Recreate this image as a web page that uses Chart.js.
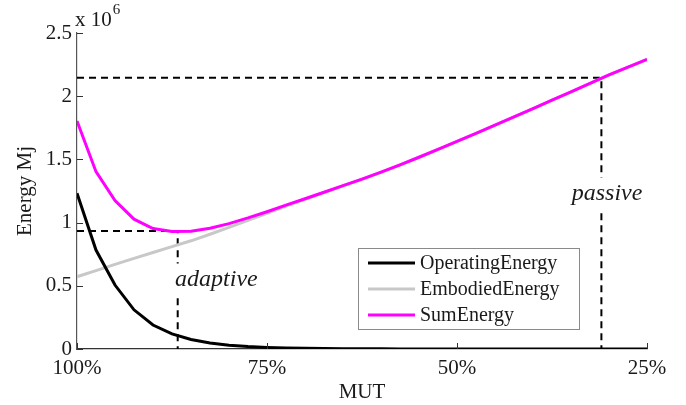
<!DOCTYPE html>
<html>
<head>
<meta charset="utf-8">
<script src="https://cdn.jsdelivr.net/npm/chart.js@4/dist/chart.umd.min.js"></script>
<style>
    html, body { margin: 0; padding: 0; background: #fff; }
    #wrap { width: 686px; height: 405px; }
</style>
</head>
<body>
<div id="wrap"><canvas id="energyChart" width="686" height="405"></canvas></div>
<script>
// ============== DATA ==============

// MUT (%) - the x axis runs from 100% down to 25%
const mutValues = [100, 97.5, 95, 92.5, 90, 87.5, 85, 82.5, 80, 77.5, 75, 72.5, 70, 67.5, 65, 62.5,
    60, 57.5, 55, 52.5, 50, 47.5, 45, 42.5, 40, 37.5, 35, 32.5, 30, 27.5, 25];

// Energy in units of 10^6 Mj
const operatingEnergy = [1.232, 0.783, 0.506, 0.310, 0.190, 0.119, 0.075, 0.047, 0.030, 0.019, 0.012,
    0.008, 0.005, 0.003, 0.002, 0.001, 0.001, 0, 0, 0, 0, 0, 0, 0, 0, 0, 0, 0, 0, 0, 0];
const embodiedEnergy = [0.572, 0.620, 0.669, 0.717, 0.763, 0.810, 0.856, 0.908, 0.962, 1.018, 1.074,
    1.130, 1.184, 1.237, 1.290, 1.343, 1.398, 1.457, 1.517, 1.579, 1.642, 1.706, 1.771, 1.836,
    1.902, 1.968, 2.034, 2.101, 2.168, 2.230, 2.292];
const sumEnergy = [1.804, 1.403, 1.175, 1.027, 0.953, 0.929, 0.931, 0.955, 0.992, 1.037, 1.086,
    1.138, 1.189, 1.240, 1.292, 1.344, 1.399, 1.457, 1.517, 1.579, 1.642, 1.706, 1.771, 1.836,
    1.902, 1.968, 2.034, 2.101, 2.168, 2.230, 2.292];

const seriesNames = ['OperatingEnergy', 'EmbodiedEnergy', 'SumEnergy'];

const xTicks = [100, 75, 50, 25];
const yTicks = [0, 0.5, 1, 1.5, 2, 2.5];

// dashed guide lines to the two marked points
const adaptiveGuideX = [100, 86.75, 86.75];
const adaptiveGuideY = [0.934, 0.934, 0];
const passiveGuideX = [100, 31, 31];
const passiveGuideY = [2.146, 2.146, 0];

// guide labels (left edge, vertical middle), in data units
const guideLabels = [
    { text: 'adaptive', mut: 87.1, energy: 0.55 },
    { text: 'passive', mut: 34.9, energy: 1.23 }
];

// ============== CHART ==============

const SERIF = '"Liberation Serif", "Times New Roman", serif';
const TEXT_COLOR = '#1a1a1a';

function toPoints(xs, ys) {
    return xs.map((x, i) => ({ x: x, y: ys[i] }));
}

// Inward tick marks (MATLAB style)
const innerTicks = {
    id: 'innerTicks',
    afterDraw(chart) {
        const ctx = chart.ctx;
        const x = chart.scales.x;
        const y = chart.scales.y;
        const area = chart.chartArea;
        ctx.save();
        ctx.strokeStyle = '#333';
        ctx.lineWidth = 1;
        xTicks.forEach(v => {
            const px = Math.round(x.getPixelForValue(v)) + 0.5;
            ctx.beginPath();
            ctx.moveTo(px, area.bottom);
            ctx.lineTo(px, area.bottom - 6);
            ctx.stroke();
        });
        yTicks.forEach(v => {
            const py = Math.round(y.getPixelForValue(v)) + 0.5;
            ctx.beginPath();
            ctx.moveTo(area.left, py);
            ctx.lineTo(area.left + 6, py);
            ctx.stroke();
        });
        ctx.restore();
    }
};

// Guide labels with white background, axis titles, exponent, legend box
const decorations = {
    id: 'decorations',
    afterDraw(chart) {
        const ctx = chart.ctx;
        const x = chart.scales.x;
        const y = chart.scales.y;
        const area = chart.chartArea;
        ctx.save();

        // guide labels
        ctx.font = 'italic 24px ' + SERIF;
        ctx.textBaseline = 'middle';
        ctx.textAlign = 'left';
        guideLabels.forEach(l => {
            const px = x.getPixelForValue(l.mut);
            const py = y.getPixelForValue(l.energy);
            const w = ctx.measureText(l.text).width;
            ctx.fillStyle = '#fff';
            ctx.fillRect(px - 2, py - 16, w + 4, 32);
            ctx.fillStyle = TEXT_COLOR;
            ctx.fillText(l.text, px, py);
        });

        // exponent
        ctx.font = '21px ' + SERIF;
        ctx.textBaseline = 'alphabetic';
        ctx.fillStyle = TEXT_COLOR;
        ctx.fillText('x 10', area.left - 2, 26);
        const w10 = ctx.measureText('x 10').width;
        ctx.font = '15px ' + SERIF;
        ctx.fillText('6', area.left - 2 + w10 + 1, 14);

        // axis titles
        ctx.font = '21px ' + SERIF;
        ctx.textAlign = 'center';
        ctx.textBaseline = 'middle';
        ctx.fillText('MUT', (area.left + area.right) / 2, 392);
        ctx.save();
        ctx.translate(25, (area.top + area.bottom) / 2);
        ctx.rotate(-Math.PI / 2);
        ctx.fillText('Energy Mj', 0, 0);
        ctx.restore();

        // legend
        const boxRight = area.right - 68;
        const boxBottom = area.bottom - 20;
        const boxLeft = boxRight - 221;
        const boxTop = boxBottom - 81;
        ctx.fillStyle = '#fff';
        ctx.fillRect(boxLeft, boxTop, boxRight - boxLeft, boxBottom - boxTop);
        ctx.strokeStyle = '#8a8a8a';
        ctx.lineWidth = 1;
        ctx.strokeRect(boxLeft + 0.5, boxTop + 0.5, boxRight - boxLeft, boxBottom - boxTop);
        ctx.font = '20px ' + SERIF;
        ctx.textAlign = 'left';
        seriesNames.forEach((name, i) => {
            const ds = chart.data.datasets[i];
            const rowY = boxTop + 15 + i * 26;
            ctx.strokeStyle = ds.borderColor;
            ctx.lineWidth = 3;
            ctx.beginPath();
            ctx.moveTo(boxLeft + 10, rowY);
            ctx.lineTo(boxLeft + 57, rowY);
            ctx.stroke();
            ctx.fillStyle = TEXT_COLOR;
            ctx.fillText(name, boxLeft + 62, rowY + 1);
        });

        ctx.restore();
    }
};

function initializeChart() {
    const ctx = document.getElementById('energyChart').getContext('2d');

    const seriesData = [operatingEnergy, embodiedEnergy, sumEnergy];
    const seriesColors = ['#000000', '#c8c8c8', '#ff00ff'];
    const seriesOrder = [0, 2, 1];

    const datasets = seriesNames.map((name, i) => ({
        label: name,
        data: toPoints(mutValues, seriesData[i]),
        borderColor: seriesColors[i],
        borderWidth: 3,
        pointRadius: 0,
        tension: 0,
        fill: false,
        order: seriesOrder[i]
    }));

    [[adaptiveGuideX, adaptiveGuideY], [passiveGuideX, passiveGuideY]].forEach(([gx, gy], i) => {
        datasets.push({
            label: 'guide' + i,
            data: toPoints(gx, gy),
            borderColor: '#000',
            borderWidth: 2,
            borderDash: [7, 5],
            pointRadius: 0,
            tension: 0,
            fill: false,
            order: 3
        });
    });

    new Chart(ctx, {
        type: 'line',
        data: { datasets: datasets },
        options: {
            responsive: false,
            animation: false,
            layout: {
                padding: { left: 0, top: 33, right: 39, bottom: 0 }
            },
            plugins: {
                legend: { display: false },
                tooltip: { enabled: false },
                title: { display: false }
            },
            scales: {
                x: {
                    type: 'linear',
                    reverse: true,
                    min: 25,
                    max: 100,
                    afterFit: scale => { scale.height = 56; },
                    afterBuildTicks: scale => {
                        scale.ticks = xTicks.map(v => ({ value: v }));
                    },
                    grid: { display: false, drawTicks: false },
                    border: { display: true, color: '#333', width: 1.2 },
                    ticks: {
                        padding: 7,
                        color: TEXT_COLOR,
                        font: { family: SERIF, size: 21 },
                        maxRotation: 0,
                        callback: v => v + '%'
                    }
                },
                y: {
                    type: 'linear',
                    min: 0,
                    max: 2.5,
                    afterFit: scale => { scale.width = 77; },
                    afterBuildTicks: scale => {
                        scale.ticks = yTicks.map(v => ({ value: v }));
                    },
                    grid: { display: false, drawTicks: false },
                    border: { display: true, color: '#555', width: 1.2 },
                    ticks: {
                        padding: 5,
                        color: TEXT_COLOR,
                        font: { family: SERIF, size: 21 },
                        callback: v => String(v)
                    }
                }
            }
        },
        plugins: [innerTicks, decorations]
    });
}

initializeChart();
</script>
</body>
</html>
